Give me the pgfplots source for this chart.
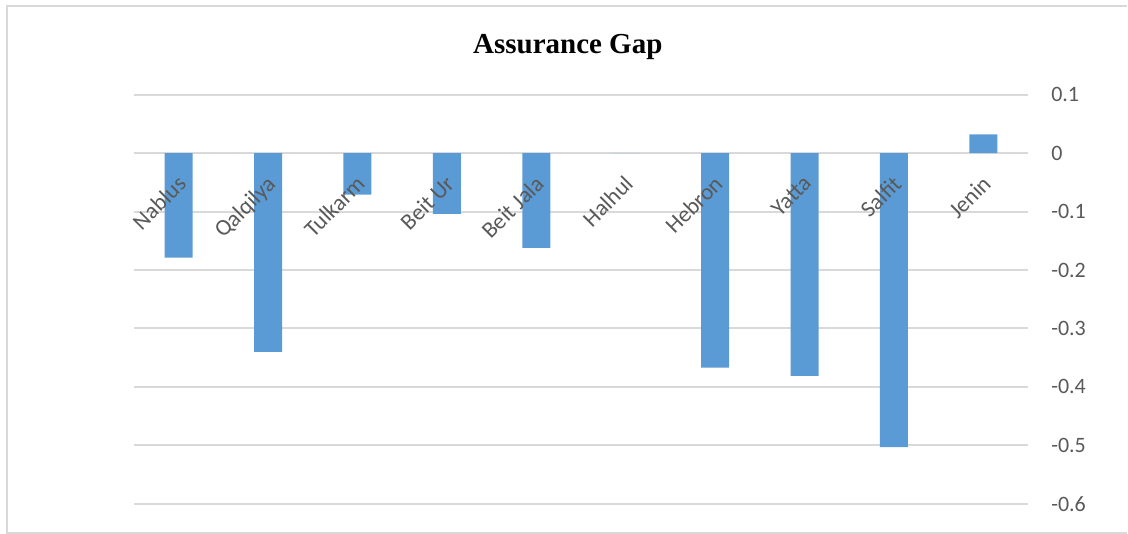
\documentclass[border=0pt]{standalone}
\usepackage{pgfplots}
\usepackage{pgfplotstable}
\pgfplotsset{compat=1.18}
\usepackage{fontspec}
\setmainfont{Carlito}
\newfontfamily\titlefont{Liberation Serif}
\definecolor{barblue}{HTML}{5B9BD5}
\definecolor{gridgray}{HTML}{D9D9D9}
\definecolor{labelgray}{HTML}{595959}

% Assurance gap per town
\pgfplotstableread{
idx gap
0 -0.179
1 -0.340
2 -0.071
3 -0.104
4 -0.162
5 0
6 -0.367
7 -0.381
8 -0.503
9 0.032
}\gaptable

\begin{document}
\begin{tikzpicture}[x=1pt,y=1pt]
\path (0,0) rectangle (1128,534);
\draw[gridgray, line width=2pt] (1128,528) -- (7,528) -- (7,1) -- (1128,1);
\node[font=\titlefont\bfseries\fontsize{29}{34}\selectfont, anchor=base] at (568.3,480) {Assurance Gap};
\begin{axis}[
  set layers=standard,
  at={(134pt,29.7pt)}, anchor=south west,
  scale only axis, width=895pt, height=409.6pt,
  xmin=-0.5, xmax=9.5, ymin=-0.6, ymax=0.1,
  axis x line=middle, axis y line=right,
  axis line style={draw=none},
  major tick length=0pt,
  ytick={-0.6,-0.5,-0.4,-0.3,-0.2,-0.1,0,0.1},
  yticklabels={-0.6,-0.5,-0.4,-0.3,-0.2,-0.1,0,0.1},
  xtick={0,1,2,3,4,5,6,7,8,9},
  xticklabels={Nablus,Qalqilya,Tulkarm,Beit Ur,Beit Jala,Halhul,Hebron,Yatta,Salfit,Jenin},
  ymajorgrids,
  grid style={gridgray, line width=2pt},
  every tick label/.append style={font=\fontsize{22}{26}\selectfont, text=labelgray},
  yticklabel style={anchor=west, inner sep=0pt, xshift=23pt},
  xticklabel style={font=\fontsize{23}{27}\selectfont, inner sep=0pt, xshift=-2.5pt, yshift=-21pt, rotate=45, anchor=north east},
]
% bars sit above the grid and below the category names
\addplot[ybar, bar width=28pt, fill=barblue, draw=none, on layer=axis ticks] table[x=idx, y=gap]{\gaptable};
\end{axis}
\end{tikzpicture}
\end{document}
